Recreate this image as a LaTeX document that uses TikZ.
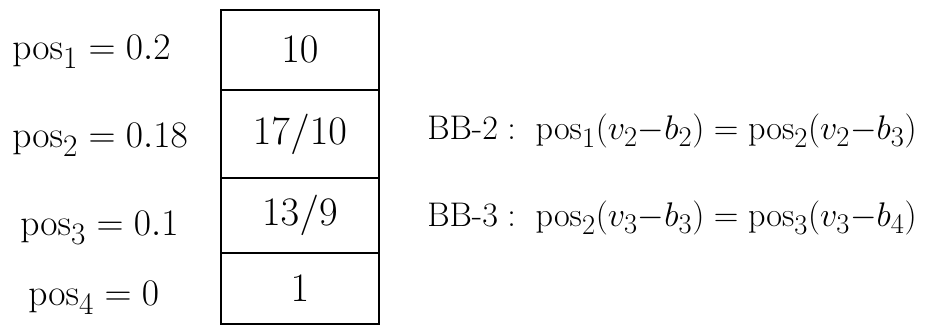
\documentclass[tikz,border=0pt]{standalone}
\usepackage{amsmath}
\usepackage{graphicx}
\newcommand{\bigtext}[2]{\scalebox{#1}{\Huge #2}}
\tikzset{
  cellbox/.style={draw, line width=0.05cm, minimum width=158pt*0.75, inner sep=0pt, anchor=north west},
  hand/.style={inner sep=0pt, anchor=west}
}
\begin{document}
\begin{tikzpicture}[x=0.75pt,y=-0.75pt]
% \clip (0,0) rectangle (946,334);
\useasboundingbox (0,0) rectangle (946,334);

% Drawing the table of cells
\node [cellbox, minimum height=80pt*0.75] (c1) at (220,9) {};%
\node [cellbox, minimum height=88pt*0.75] (c2) at (220,89) {};%
\node [cellbox, minimum height=75pt*0.75] (c3) at (220,177) {};%
\node [cellbox, minimum height=71pt*0.75] (c4) at (220,252) {};%
\node [inner sep=0pt] (v1) at (c1.center) {\bigtext{1.22}{$10$}};%
\node [inner sep=0pt] (v2) at (c2.center) {\bigtext{1.22}{$17/10$}};%
\node [inner sep=0pt] (v3) at (c3.center) {\bigtext{1.22}{$13/9$}};%
\node [inner sep=0pt] (v4) at (c4.center) {\bigtext{1.22}{$1$}};%

% Drawing the pos labels
\node [hand] (p1) at (12,52) {\bigtext{1.13}{$\mathrm{pos}_1 = 0.2$}};%
\node [hand] (p2) at (12,140) {\bigtext{1.13}{$\mathrm{pos}_2 = 0.18$}};%
\node [hand] (p3) at (20,228) {\bigtext{1.13}{$\mathrm{pos}_3 = 0.1$}};%
\node [hand] (p4) at (28,298) {\bigtext{1.13}{$\mathrm{pos}_4 = 0$}};%

% Drawing the equations
\node [hand] (bb2) at (427,131) {\bigtext{1.03}{$\mbox{BB-2}:\ \mathrm{pos}_1(v_2{-}b_2)=\mathrm{pos}_2(v_2{-}b_3)$}};%
\node [hand] (bb3) at (427,218) {\bigtext{1.03}{$\mbox{BB-3}:\ \mathrm{pos}_2(v_3{-}b_3)=\mathrm{pos}_3(v_3{-}b_4)$}};%
\end{tikzpicture}
\end{document}
